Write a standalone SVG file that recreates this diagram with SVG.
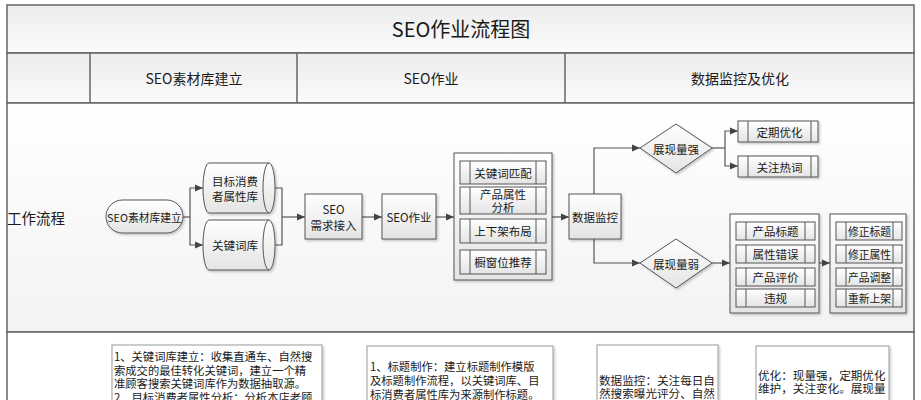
<svg xmlns="http://www.w3.org/2000/svg" width="921" height="400" viewBox="0 0 921 400">
<defs>
<linearGradient id="gNode" x1="0" y1="0" x2="0" y2="1"><stop offset="0" stop-color="#ffffff"/><stop offset="1" stop-color="#e4e4e4"/></linearGradient>
<linearGradient id="gHead" x1="0" y1="0" x2="0" y2="1"><stop offset="0" stop-color="#ececec"/><stop offset="1" stop-color="#fbfbfb"/></linearGradient>
<linearGradient id="gRow" x1="0" y1="0" x2="0" y2="1"><stop offset="0" stop-color="#ffffff"/><stop offset="1" stop-color="#f3f3f3"/></linearGradient>
<marker id="arr" viewBox="0 0 10 10" refX="10" refY="5" markerWidth="9" markerHeight="8" orient="auto" markerUnits="userSpaceOnUse"><path d="M0,0.5 L10,5 L0,9.5 z" fill="#444"/></marker>
<filter id="sh" x="-10%" y="-10%" width="130%" height="140%"><feDropShadow dx="1.5" dy="1.5" stdDeviation="1" flood-color="#000" flood-opacity="0.22"/></filter>
</defs>
<style>
.t{font-family:"Noto Sans CJK SC","Noto Sans",sans-serif;fill:#1a1a1a;text-anchor:middle;dominant-baseline:central;font-size:11.5px;}
.sm{font-size:10.8px;}
.l{font-family:"Noto Sans CJK SC","Noto Sans",sans-serif;fill:#1a1a1a;dominant-baseline:central;font-size:11.3px;}
.n{fill:url(#gNode);stroke:#555;stroke-width:1;filter:url(#sh);}
.s{fill:url(#gNode);stroke:#555;stroke-width:1;}
.il{stroke:#555;stroke-width:1;fill:none;}
.c{fill:none;stroke:#555;stroke-width:1.2;}
.ca{fill:none;stroke:#555;stroke-width:1.2;marker-end:url(#arr);}
.fr{stroke:#666;stroke-width:1.5;}
.nb{fill:#fff;stroke:#999;stroke-width:1;filter:url(#sh);}
</style>

<!-- frame -->
<g id="frame">
<rect x="7" y="5" width="907" height="48" fill="url(#gHead)" class="fr"/>
<rect x="7" y="53" width="907" height="50" fill="url(#gHead)" class="fr"/>
<rect x="7" y="103" width="907" height="229" fill="url(#gRow)" class="fr"/>
<rect x="7" y="332" width="907" height="80" fill="#ffffff" class="fr"/>
<line x1="90" y1="53" x2="90" y2="103" class="fr"/>
<line x1="297" y1="53" x2="297" y2="103" class="fr" stroke-width="1"/>
<line x1="565" y1="53" x2="565" y2="103" class="fr" stroke-width="1"/>
<text class="t" x="461" y="28" style="font-size:20px">SEO作业流程图</text>
<text class="t" x="194" y="78" style="font-size:14px">SEO素材库建立</text>
<text class="t" x="431" y="78" style="font-size:14px">SEO作业</text>
<text class="t" x="740" y="78" style="font-size:14px">数据监控及优化</text>
<text class="t" x="36" y="217" style="font-size:14.5px">工作流程</text>
</g>

<!-- connectors -->
<g id="connectors">
<polyline class="c" points="183,217 190,217"/>
<polyline class="ca" points="190,217 190,188 203,188"/>
<polyline class="ca" points="190,217 190,245 203,245"/>
<polyline class="c" points="264,188 282,188 282,245 264,245"/>
<polyline class="ca" points="282,217 305,217"/>
<polyline class="ca" points="362,217 382,217"/>
<polyline class="ca" points="436,217 454,217"/>
<polyline class="ca" points="552,217 569,217"/>
<polyline class="ca" points="594,194 594,148 640,148"/>
<polyline class="ca" points="594,239 594,263 640,263"/>
<polyline class="c" points="712,148 725,148"/>
<polyline class="ca" points="725,148 725,131 738,131"/>
<polyline class="ca" points="725,148 725,166 738,166"/>
<polyline class="ca" points="712,263 730,263"/>
<polyline class="ca" points="819,263 830,263"/>
</g>

<g id="n-start">
<rect class="n" x="106" y="200" width="77" height="33" rx="16.5"/>
<text class="t" x="144.5" y="217" style="font-size:10.8px">SEO素材库建立</text>
</g>

<g id="n-db1">
<path class="n" d="M209,163 H269 A6,25 0 0 1 269,213 H209 A6,25 0 0 1 209,163 Z"/>
<path class="il" d="M269,163 A6,25 0 0 0 269,213"/>
<text class="t" x="235" y="181">目标消费</text>
<text class="t" x="235" y="196">者属性库</text>
</g>

<g id="n-db2">
<path class="n" d="M209,220 H269 A6,25 0 0 1 269,270 H209 A6,25 0 0 1 209,220 Z"/>
<path class="il" d="M269,220 A6,25 0 0 0 269,270"/>
<text class="t" x="235" y="245">关键词库</text>
</g>

<g id="n-req">
<rect class="n" x="305" y="194" width="57" height="45"/>
<text class="t" x="333.5" y="209">SEO</text>
<text class="t" x="333.5" y="225">需求接入</text>
</g>

<g id="n-work">
<rect class="n" x="382" y="194" width="54" height="45"/>
<text class="t" x="409" y="217">SEO作业</text>
</g>

<g id="n-tasks">
<rect class="n" x="454" y="153" width="98" height="127"/>
<rect class="s" x="460" y="161" width="86" height="23"/>
<line class="il" x1="470" y1="161" x2="470" y2="184"/><line class="il" x1="536" y1="161" x2="536" y2="184"/>
<text class="t" x="503" y="172.5">关键词匹配</text>
<rect class="s" x="460" y="187" width="86" height="27"/>
<line class="il" x1="470" y1="187" x2="470" y2="214"/><line class="il" x1="536" y1="187" x2="536" y2="214"/>
<text class="t" x="503" y="194">产品属性</text>
<text class="t" x="503" y="207">分析</text>
<rect class="s" x="460" y="219" width="86" height="24"/>
<line class="il" x1="470" y1="219" x2="470" y2="243"/><line class="il" x1="536" y1="219" x2="536" y2="243"/>
<text class="t" x="503" y="231">上下架布局</text>
<rect class="s" x="460" y="250" width="86" height="24"/>
<line class="il" x1="470" y1="250" x2="470" y2="274"/><line class="il" x1="536" y1="250" x2="536" y2="274"/>
<text class="t" x="503" y="262">橱窗位推荐</text>
</g>

<g id="n-monitor">
<rect class="n" x="569" y="194" width="52" height="45"/>
<text class="t" x="595" y="217">数据监控</text>
</g>

<g id="n-strong">
<polygon class="n" points="640,148 676,124 712,148 676,173"/>
<text class="t" x="676" y="148.5">展现量强</text>
</g>

<g id="n-opt">
<rect class="n" x="738" y="121" width="80" height="21"/>
<line class="il" x1="748" y1="121" x2="748" y2="142"/><line class="il" x1="811" y1="121" x2="811" y2="142"/>
<text class="t" x="779.5" y="131.5">定期优化</text>
</g>

<g id="n-hot">
<rect class="n" x="738" y="156" width="80" height="21"/>
<line class="il" x1="748" y1="156" x2="748" y2="177"/><line class="il" x1="811" y1="156" x2="811" y2="177"/>
<text class="t" x="779.5" y="166.5">关注热词</text>
</g>

<g id="n-weak">
<polygon class="n" points="640,263 676,239 712,263 676,288"/>
<text class="t" x="676" y="263.5">展现量弱</text>
</g>

<g id="n-issues">
<rect class="n" x="730" y="214" width="89" height="99"/>
<rect class="s" x="736" y="222" width="79" height="18"/>
<line class="il" x1="746" y1="222" x2="746" y2="240"/><line class="il" x1="805" y1="222" x2="805" y2="240"/>
<text class="t" x="775.5" y="231">产品标题</text>
<rect class="s" x="736" y="245" width="79" height="18"/>
<line class="il" x1="746" y1="245" x2="746" y2="263"/><line class="il" x1="805" y1="245" x2="805" y2="263"/>
<text class="t" x="775.5" y="254">属性错误</text>
<rect class="s" x="736" y="268" width="79" height="18"/>
<line class="il" x1="746" y1="268" x2="746" y2="286"/><line class="il" x1="805" y1="268" x2="805" y2="286"/>
<text class="t" x="775.5" y="277">产品评价</text>
<rect class="s" x="736" y="289" width="79" height="18"/>
<line class="il" x1="746" y1="289" x2="746" y2="307"/><line class="il" x1="805" y1="289" x2="805" y2="307"/>
<text class="t" x="775.5" y="298">违规</text>
</g>

<g id="n-fixes">
<rect class="n" x="830" y="214" width="76" height="99"/>
<rect class="s" x="836" y="222" width="66" height="18"/>
<line class="il" x1="846" y1="222" x2="846" y2="240"/><line class="il" x1="893" y1="222" x2="893" y2="240"/>
<text class="t sm" x="869.5" y="231">修正标题</text>
<rect class="s" x="836" y="245" width="66" height="18"/>
<line class="il" x1="846" y1="245" x2="846" y2="263"/><line class="il" x1="893" y1="245" x2="893" y2="263"/>
<text class="t sm" x="869.5" y="254">修正属性</text>
<rect class="s" x="836" y="268" width="66" height="18"/>
<line class="il" x1="846" y1="268" x2="846" y2="286"/><line class="il" x1="893" y1="268" x2="893" y2="286"/>
<text class="t sm" x="869.5" y="277">产品调整</text>
<rect class="s" x="836" y="289" width="66" height="18"/>
<line class="il" x1="846" y1="289" x2="846" y2="307"/><line class="il" x1="893" y1="289" x2="893" y2="307"/>
<text class="t sm" x="869.5" y="298">重新上架</text>
</g>

<!-- notes -->
<g id="note1">
<rect class="nb" x="112" y="345" width="210" height="70"/>
<text class="l" x="114" y="356">1、关键词库建立：收集直通车、自然搜</text>
<text class="l" x="114" y="369.5">索成交的最佳转化关键词，建立一个精</text>
<text class="l" x="114" y="383">准顾客搜索关键词库作为数据抽取源。</text>
<text class="l" x="114" y="396.5">2、目标消费者属性分析：分析本店老顾</text>
</g>
<g id="note2">
<rect class="nb" x="367" y="346" width="186" height="70"/>
<text class="l" x="370" y="366">1、标题制作：建立标题制作模版</text>
<text class="l" x="370" y="380">及标题制作流程，以关键词库、目</text>
<text class="l" x="370" y="394">标消费者属性库为来源制作标题。</text>
</g>
<g id="note3">
<rect class="nb" x="597" y="345" width="121" height="70"/>
<text class="l" x="599" y="380" style="font-size:11.6px">数据监控：关注每日自</text>
<text class="l" x="599" y="393" style="font-size:11.6px">然搜索曝光评分、自然</text>
</g>
<g id="note4">
<rect class="nb" x="756" y="346" width="133" height="70"/>
<text class="l" x="758" y="375" style="font-size:11.6px">优化：现量强，定期优化</text>
<text class="l" x="758" y="388" style="font-size:11.6px">维护，关注变化。展现量</text>
</g>
</svg>
